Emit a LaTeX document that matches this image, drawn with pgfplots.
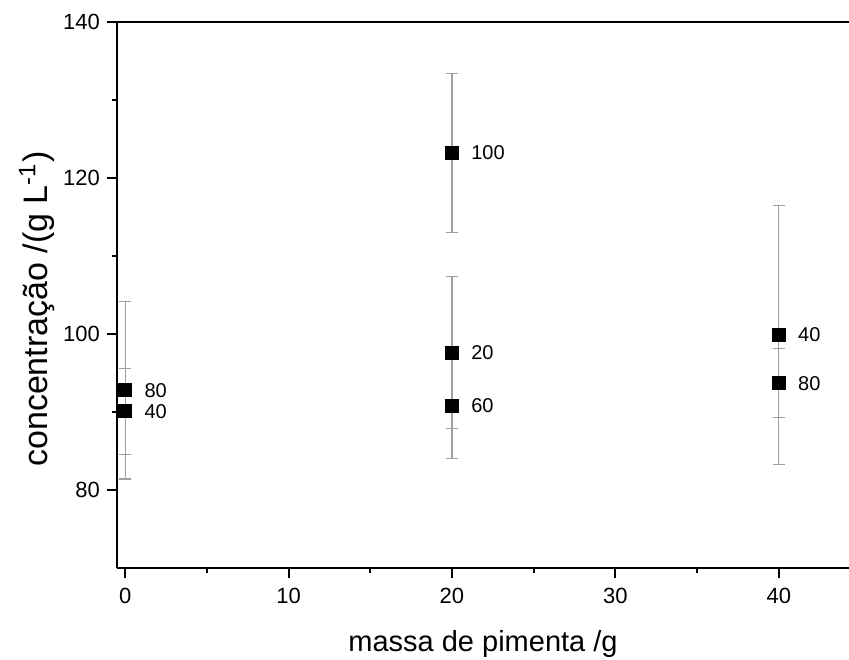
\documentclass[border=0pt]{standalone}
\usepackage{fontspec}
\setmainfont{Liberation Sans}
\usepackage{pgfplots}
\usepackage{pgfplotstable}
\pgfplotsset{compat=1.18}

% massa, concentracao, desvio, rotulo
\pgfplotstableread{
x    y      err   lab
0    92.8   11.4  80
0    90.1   5.5   40
20   123.2  10.2  100
20   97.6   9.75  20
20   90.8   6.8   60
40   99.9   16.6  40
40   93.7   4.4   80
}\dados

\begin{document}
\begin{tikzpicture}
\begin{axis}[
    at={(0,0)}, anchor=south west,
    scale only axis,
    width=366pt, height=273pt,
    xmin=-0.5, xmax=44.3,
    ymin=70, ymax=140,
    axis x line*=box, axis y line*=left,
    axis line style={-, line width=1pt, black},
    xtick={0,10,...,40}, ytick={80,100,...,140},
    minor x tick num=1, minor y tick num=1,
    xtick pos=bottom, ytick pos=left,
    tick align=outside,
    major tick length=5pt, minor tick length=2.5pt,
    tick style={black, line width=1pt},
    /pgf/number format/assume math mode=true,
    ticklabel style={font=\fontsize{11}{13}\selectfont},
    xticklabel style={yshift=-1.5pt},
    xlabel={massa de pimenta /g},
    ylabel={concentração /(g L\textsuperscript{-1})},
    xlabel style={font=\fontsize{14.5}{16}\selectfont, at={(rel axis cs:0.5,0)}, anchor=center, yshift=-38pt},
    ylabel style={font=\fontsize{17}{19}\selectfont, at={(rel axis cs:0,0.474)}, anchor=center, yshift=40pt},
    clip=false,
]
\addplot[
    only marks, mark=square*, mark size=3.3pt, black,
    error bars/.cd, y dir=both, y explicit,
    error bar style={gray!75, line width=0.6pt},
    error mark options={gray!75, rotate=90, mark size=3pt, line width=0.6pt},
] table[x=x, y=y, y error=err] {\dados};
\addplot[
    only marks, mark=none,
    nodes near coords, point meta=explicit symbolic,
    every node near coord/.style={anchor=west, inner sep=0pt, xshift=9.5pt, font=\fontsize{10}{12}\selectfont},
] table[x=x, y=y, meta=lab] {\dados};
\end{axis}
\pgfresetboundingbox
\path (-58.5pt,-45.5pt) rectangle (366pt,284pt);
\end{tikzpicture}
\end{document}
